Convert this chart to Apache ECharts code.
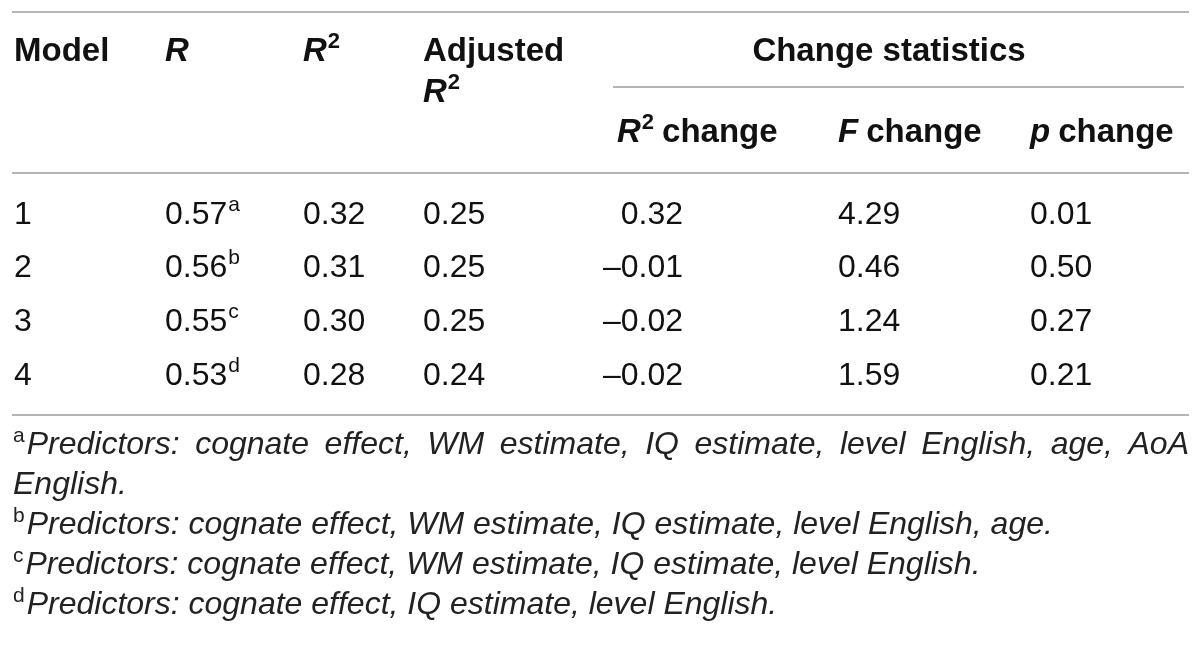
<!DOCTYPE html>
<html>
<head>
<meta charset="utf-8">
<script src="https://cdn.jsdelivr.net/npm/echarts@6/dist/echarts.min.js"></script>
<style>
html, body { margin: 0; padding: 0; background: #fff; }
#main { width: 1200px; height: 649px; }
</style>
</head>
<body>
<div id="main"></div>
<script>
// table values
var modelIds = ['1', '2', '3', '4'];
var rValues = [0.57, 0.56, 0.55, 0.53];
var rNotes = ['a', 'b', 'c', 'd'];
var r2Values = [0.32, 0.31, 0.30, 0.28];
var adjR2Values = [0.25, 0.25, 0.25, 0.24];
var r2ChangeValues = [0.32, -0.01, -0.02, -0.02];
var fChangeValues = [4.29, 0.46, 1.24, 1.59];
var pChangeValues = [0.01, 0.50, 0.27, 0.21];
var footNotes = [
    'Predictors: cognate effect, WM estimate, IQ estimate, level English, age, AoA English.',
    'Predictors: cognate effect, WM estimate, IQ estimate, level English, age.',
    'Predictors: cognate effect, WM estimate, IQ estimate, level English.',
    'Predictors: cognate effect, IQ estimate, level English.'
];

var FAMILY = '"Liberation Sans", Arial, sans-serif';
var INK = '#111';
var RULE = '#9c9c9c';
var LEFT = 12, RIGHT = 1189;
var HS = 33, BS = 32, FS = 32;

var col = { model: 14, r: 165, r2: 303, adj: 423, r2c: 617, r2cRight: 683, f: 838, p: 1030 };
var rowY = [215, 268, 322, 376];
var head1Y = 52, head2Y = 133, adjLine2Y = 93;
var footTop = 445, footStep = 40;

var ctx = document.createElement('canvas').getContext('2d');
function fontStr(size, weight, style) {
    return (style || 'normal') + ' ' + (weight || 'normal') + ' ' + size + 'px ' + FAMILY;
}
function measure(s, size, weight, style) {
    ctx.font = fontStr(size, weight, style);
    return ctx.measureText(s).width;
}
function fmt(v) {
    return (v < 0 ? '\u2013' : '') + Math.abs(v).toFixed(2);
}

var els = [];
function txt(x, y, s, o) {
    o = o || {};
    var size = o.size || BS;
    els.push({
        type: 'text', x: x, y: y, silent: true,
        style: {
            text: s,
            fontFamily: FAMILY,
            fontSize: size,
            fontWeight: o.weight || 'normal',
            fontStyle: o.style || 'normal',
            fill: o.fill || INK,
            align: o.align || 'left',
            verticalAlign: 'middle',
            textAlign: o.align || 'left',
            textVerticalAlign: 'middle'
        }
    });
    return measure(s, size, o.weight, o.style);
}
function rule(x1, x2, y) {
    els.push({
        type: 'line', silent: true,
        shape: { x1: x1, y1: y, x2: x2, y2: y },
        style: { stroke: RULE, lineWidth: 1.6 }
    });
}
// bold italic R with superscript 2
function rSquared(x, y) {
    var w = txt(x, y, 'R', { size: HS, weight: 'bold', style: 'italic' });
    txt(x + w + 1, y - 10, '2', { size: 22, weight: 'bold' });
    return w + 1 + measure('2', 22, 'bold');
}

// rules
rule(LEFT, RIGHT, 12);
rule(613, 1184, 87);
rule(LEFT, RIGHT, 173);
rule(LEFT, RIGHT, 415);

// header
txt(col.model, head1Y, 'Model', { size: HS, weight: 'bold' });
txt(col.r, head1Y, 'R', { size: HS, weight: 'bold', style: 'italic' });
rSquared(col.r2, head1Y);
txt(col.adj, head1Y, 'Adjusted', { size: HS, weight: 'bold' });
rSquared(col.adj, adjLine2Y);
txt(889, head1Y, 'Change statistics', { size: HS, weight: 'bold', align: 'center' });

var w1 = rSquared(col.r2c, head2Y);
txt(col.r2c + w1 + 8, head2Y, 'change', { size: HS, weight: 'bold' });
var w2 = txt(col.f, head2Y, 'F', { size: HS, weight: 'bold', style: 'italic' });
txt(col.f + w2 + 8, head2Y, 'change', { size: HS, weight: 'bold' });
var w3 = txt(col.p, head2Y, 'p', { size: HS, weight: 'bold', style: 'italic' });
txt(col.p + w3 + 8, head2Y, 'change', { size: HS, weight: 'bold' });

// body rows
modelIds.forEach(function (id, i) {
    var y = rowY[i];
    txt(col.model, y, id);
    var wr = txt(col.r, y, fmt(rValues[i]));
    txt(col.r + wr + 1, y - 10, rNotes[i], { size: 21 });
    txt(col.r2, y, fmt(r2Values[i]));
    txt(col.adj, y, fmt(adjR2Values[i]));
    txt(col.r2cRight, y, fmt(r2ChangeValues[i]), { align: 'right' });
    txt(col.f, y, fmt(fChangeValues[i]));
    txt(col.p, y, fmt(pChangeValues[i]));
});

// footnotes, wrapped and justified like the source
var lineNo = 0;
footNotes.forEach(function (note, i) {
    var y = footTop + lineNo * footStep;
    var wl = txt(LEFT + 1, y - 9, rNotes[i], { size: 21, fill: '#222' });
    var start = LEFT + 1 + wl + 2;
    var words = note.split(' ');
    var lines = [], cur = [];
    var avail = RIGHT - start;
    words.forEach(function (wd) {
        var test = cur.concat([wd]).join(' ');
        if (cur.length && measure(test, FS, 'normal', 'italic') > avail) {
            lines.push(cur);
            cur = [wd];
            avail = RIGHT - LEFT;
        } else {
            cur.push(wd);
        }
    });
    lines.push(cur);
    lines.forEach(function (ln, k) {
        var x0 = k === 0 ? start : LEFT + 1;
        var yy = footTop + lineNo * footStep;
        if (k === lines.length - 1) {
            txt(x0, yy, ln.join(' '), { size: FS, style: 'italic', fill: '#222' });
        } else {
            var total = 0;
            ln.forEach(function (wd) { total += measure(wd, FS, 'normal', 'italic'); });
            var gap = (RIGHT - x0 - total) / (ln.length - 1);
            var x = x0;
            ln.forEach(function (wd) {
                var ww = txt(x, yy, wd, { size: FS, style: 'italic', fill: '#222' });
                x += ww + gap;
            });
        }
        lineNo++;
    });
});

var chart = echarts.init(document.getElementById('main'), null, { renderer: 'canvas' });
chart.setOption({
    backgroundColor: '#fff',
    animation: false,
    graphic: { elements: els }
});
</script>
</body>
</html>
